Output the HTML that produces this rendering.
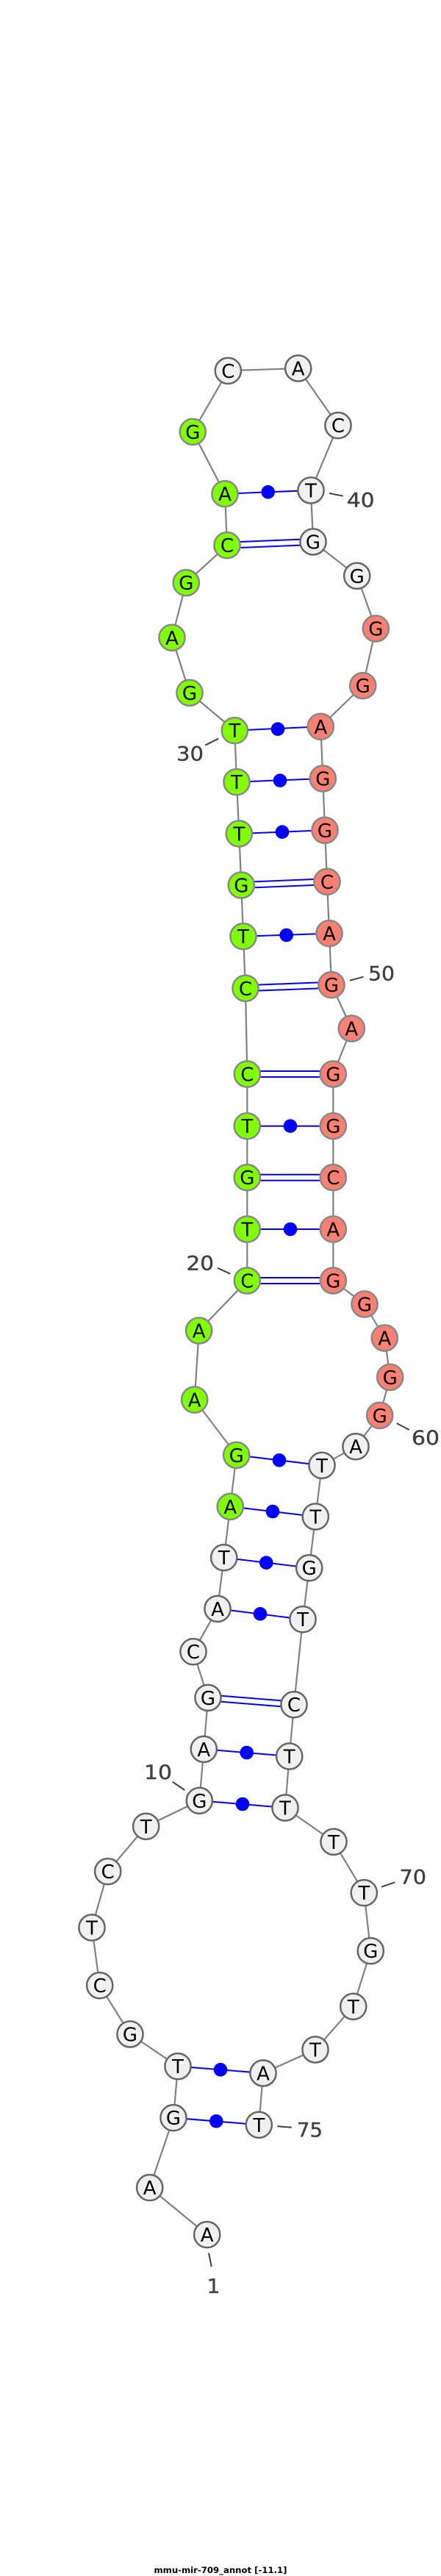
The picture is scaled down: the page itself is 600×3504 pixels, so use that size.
<!DOCTYPE html>
<html><head><meta charset="utf-8"><style>
html,body{margin:0;padding:0;background:#fff}
svg{display:block}
.n circle{r:17.6px}
.n text{font-family:"DejaVu Sans",sans-serif;font-size:26px;text-anchor:middle;fill:#000;transform:translateY(.5px)}
.g circle{fill:#7fff00;stroke:#888;stroke-width:2.5}
.s circle{fill:#fa8072;stroke:#888;stroke-width:2.5}
.w circle{fill:#f0f0f0;stroke:#666;stroke-width:2.5}
.lab{font-family:"DejaVu Sans",sans-serif;font-size:27px;fill:#404040;stroke:#404040;stroke-width:.4}
.tick line{stroke:#404040;stroke-width:2}
.bp line{stroke:#0000ff;stroke-width:2}
.bp circle{fill:#0000ff}
</style></head><body>
<svg width="600" height="3504" viewBox="0 0 600 3504" xmlns="http://www.w3.org/2000/svg">
<polyline fill="none" stroke="#808080" stroke-width="2.2" points="281.7,3039.7 203.7,2975.7 236,2880.7 242,2810.7 177,2767 135.7,2700.7 125,2622 146.7,2545.7 198.7,2484.3 271.3,2449.3 277.3,2379.3 283,2309.3 263,2246.7 296,2188.3 304.7,2118.7 313.3,2049.3 321.7,1979.3 264.7,1904 270.7,1810 336.3,1742 336.3,1672 336.3,1601.7 336.3,1531.7 336.3,1461 334,1344.3 331,1273.7 328.3,1204 325.3,1134 322,1063.7 319.3,993.7 258,942.3 234,867.3 253.3,792.7 309,741.7 306,671.7 262.3,587.3 310.3,504.3 405.7,501 460,578.7 423,667 426,737 485.7,783.3 511.3,855 493.7,932.7 436.3,988.3 439.3,1059 442,1129.3 445,1199.3 448,1269.7 451,1339.7 478.3,1399 453.3,1461 453.3,1531.7 453.3,1601.7 453.3,1672 453.3,1742 496,1774 523.3,1820 530.7,1873.3 516.7,1925.3 484,1967.7 438,1993.3 429.3,2063 420.7,2132.7 412,2202.7 400,2318.7 393.7,2389 388,2459 454,2505.3 495.3,2574.7 504.3,2653.7 480.7,2729.3 429,2788 358,2820 352.3,2890.3"/>
<polyline fill="none" stroke="#808080" stroke-width="2.2" points="242,2810.7 358,2820" style="display:none"/>
<g class="bp">
<line x1="306" y1="671.7" x2="423" y2="667"/><circle cx="364.7" cy="669.3" r="9.3"/>
<line x1="309" y1="737.7" x2="426" y2="733"/><line x1="309" y1="745.7" x2="426" y2="741"/>
<line x1="319.3" y1="993.7" x2="436.3" y2="988.3"/><circle cx="378" cy="991.7" r="9.3"/>
<line x1="322" y1="1063.7" x2="439.3" y2="1059"/><circle cx="381" cy="1061.7" r="9.3"/>
<line x1="325.3" y1="1134" x2="442" y2="1129.3"/><circle cx="384" cy="1131.7" r="9.3"/>
<line x1="328.3" y1="1200" x2="445" y2="1195.3"/><line x1="328.3" y1="1208" x2="445" y2="1203.3"/>
<line x1="331" y1="1273.7" x2="448" y2="1269.7"/><circle cx="389.7" cy="1272" r="9.3"/>
<line x1="334" y1="1340.3" x2="451" y2="1335.7"/><line x1="334" y1="1348.3" x2="451" y2="1343.7"/>
<line x1="336.3" y1="1457" x2="453.3" y2="1457"/><line x1="336.3" y1="1465" x2="453.3" y2="1465"/>
<line x1="336.3" y1="1531.7" x2="453.3" y2="1531.7"/><circle cx="395" cy="1531.7" r="9.3"/>
<line x1="336.3" y1="1597.7" x2="453.3" y2="1597.7"/><line x1="336.3" y1="1605.7" x2="453.3" y2="1605.7"/>
<line x1="336.3" y1="1672" x2="453.3" y2="1672"/><circle cx="395" cy="1672" r="9.3"/>
<line x1="336.3" y1="1738" x2="453.3" y2="1738"/><line x1="336.3" y1="1746" x2="453.3" y2="1746"/>
<line x1="321.7" y1="1979.3" x2="438" y2="1993.3"/><circle cx="380" cy="1986.3" r="9.3"/>
<line x1="313.3" y1="2049.3" x2="429.3" y2="2063"/><circle cx="371" cy="2056" r="9.3"/>
<line x1="304.7" y1="2118.7" x2="420.7" y2="2132.7"/><circle cx="362.3" cy="2125.7" r="9.3"/>
<line x1="296" y1="2188.3" x2="412" y2="2202.7"/><circle cx="354" cy="2195.3" r="9.3"/>
<line x1="283" y1="2305.3" x2="400" y2="2314.7"/><line x1="283" y1="2313.3" x2="400" y2="2322.7"/>
<line x1="277.3" y1="2379.3" x2="393.7" y2="2389"/><circle cx="335.7" cy="2384" r="9.3"/>
<line x1="271.3" y1="2449.3" x2="388" y2="2459"/><circle cx="330" cy="2454" r="9.3"/>
<line x1="242" y1="2810.7" x2="358" y2="2820"/><circle cx="300" cy="2815.3" r="9.3"/>
<line x1="236" y1="2880.7" x2="352.3" y2="2890.3"/><circle cx="294.3" cy="2885.3" r="9.3"/>
</g>
<g class="n w">
<circle cx="281.7" cy="3039.7" r="17"/><text x="281.7" y="3048.7">A</text>
<circle cx="203.7" cy="2975.7" r="17"/><text x="203.7" y="2984.7">A</text>
<circle cx="236" cy="2880.7" r="17"/><text x="236" y="2889.7">G</text>
<circle cx="242" cy="2810.7" r="17"/><text x="242" y="2819.7">T</text>
<circle cx="177" cy="2767" r="17"/><text x="177" y="2776">G</text>
<circle cx="135.7" cy="2700.7" r="17"/><text x="135.7" y="2709.7">C</text>
<circle cx="125" cy="2622" r="17"/><text x="125" y="2631">T</text>
<circle cx="146.7" cy="2545.7" r="17"/><text x="146.7" y="2554.7">C</text>
<circle cx="198.7" cy="2484.3" r="17"/><text x="198.7" y="2493.3">T</text>
<circle cx="271.3" cy="2449.3" r="17"/><text x="271.3" y="2458.3">G</text>
<circle cx="277.3" cy="2379.3" r="17"/><text x="277.3" y="2388.3">A</text>
<circle cx="283" cy="2309.3" r="17"/><text x="283" y="2318.3">G</text>
<circle cx="263" cy="2246.7" r="17"/><text x="263" y="2255.7">C</text>
<circle cx="296" cy="2188.3" r="17"/><text x="296" y="2197.3">A</text>
<circle cx="304.7" cy="2118.7" r="17"/><text x="304.7" y="2127.7">T</text>
<circle cx="310.3" cy="504.3" r="17"/><text x="310.3" y="513.3">C</text>
<circle cx="405.7" cy="501" r="17"/><text x="405.7" y="510">A</text>
<circle cx="460" cy="578.7" r="17"/><text x="460" y="587.7">C</text>
<circle cx="423" cy="667" r="17"/><text x="423" y="676">T</text>
<circle cx="426" cy="737" r="17"/><text x="426" y="746">G</text>
<circle cx="485.7" cy="783.3" r="17"/><text x="485.7" y="792.3">G</text>
<circle cx="484" cy="1967.7" r="17"/><text x="484" y="1976.7">A</text>
<circle cx="438" cy="1993.3" r="17"/><text x="438" y="2002.3">T</text>
<circle cx="429.3" cy="2063" r="17"/><text x="429.3" y="2072">T</text>
<circle cx="420.7" cy="2132.7" r="17"/><text x="420.7" y="2141.7">G</text>
<circle cx="412" cy="2202.7" r="17"/><text x="412" y="2211.7">T</text>
<circle cx="400" cy="2318.7" r="17"/><text x="400" y="2327.7">C</text>
<circle cx="393.7" cy="2389" r="17"/><text x="393.7" y="2398">T</text>
<circle cx="388" cy="2459" r="17"/><text x="388" y="2468">T</text>
<circle cx="454" cy="2505.3" r="17"/><text x="454" y="2514.3">T</text>
<circle cx="495.3" cy="2574.7" r="17"/><text x="495.3" y="2583.7">T</text>
<circle cx="504.3" cy="2653.7" r="17"/><text x="504.3" y="2662.7">G</text>
<circle cx="480.7" cy="2729.3" r="17"/><text x="480.7" y="2738.3">T</text>
<circle cx="429" cy="2788" r="17"/><text x="429" y="2797">T</text>
<circle cx="358" cy="2820" r="17"/><text x="358" y="2829">A</text>
<circle cx="352.3" cy="2890.3" r="17"/><text x="352.3" y="2899.3">T</text>
</g>
<g class="n g">
<circle cx="313.3" cy="2049.3" r="17"/><text x="313.3" y="2058.3">A</text>
<circle cx="321.7" cy="1979.3" r="17"/><text x="321.7" y="1988.3">G</text>
<circle cx="264.7" cy="1904" r="17"/><text x="264.7" y="1913">A</text>
<circle cx="270.7" cy="1810" r="17"/><text x="270.7" y="1819">A</text>
<circle cx="336.3" cy="1742" r="17"/><text x="336.3" y="1751">C</text>
<circle cx="336.3" cy="1672" r="17"/><text x="336.3" y="1681">T</text>
<circle cx="336.3" cy="1601.7" r="17"/><text x="336.3" y="1610.7">G</text>
<circle cx="336.3" cy="1531.7" r="17"/><text x="336.3" y="1540.7">T</text>
<circle cx="336.3" cy="1461" r="17"/><text x="336.3" y="1470">C</text>
<circle cx="334" cy="1344.3" r="17"/><text x="334" y="1353.3">C</text>
<circle cx="331" cy="1273.7" r="17"/><text x="331" y="1282.7">T</text>
<circle cx="328.3" cy="1204" r="17"/><text x="328.3" y="1213">G</text>
<circle cx="325.3" cy="1134" r="17"/><text x="325.3" y="1143">T</text>
<circle cx="322" cy="1063.7" r="17"/><text x="322" y="1072.7">T</text>
<circle cx="319.3" cy="993.7" r="17"/><text x="319.3" y="1002.7">T</text>
<circle cx="258" cy="942.3" r="17"/><text x="258" y="951.3">G</text>
<circle cx="234" cy="867.3" r="17"/><text x="234" y="876.3">A</text>
<circle cx="253.3" cy="792.7" r="17"/><text x="253.3" y="801.7">G</text>
<circle cx="309" cy="741.7" r="17"/><text x="309" y="750.7">C</text>
<circle cx="306" cy="671.7" r="17"/><text x="306" y="680.7">A</text>
<circle cx="262.3" cy="587.3" r="17"/><text x="262.3" y="596.3">G</text>
</g>
<g class="n s">
<circle cx="511.3" cy="855" r="17"/><text x="511.3" y="864">G</text>
<circle cx="493.7" cy="932.7" r="17"/><text x="493.7" y="941.7">G</text>
<circle cx="436.3" cy="988.3" r="17"/><text x="436.3" y="997.3">A</text>
<circle cx="439.3" cy="1059" r="17"/><text x="439.3" y="1068">G</text>
<circle cx="442" cy="1129.3" r="17"/><text x="442" y="1138.3">G</text>
<circle cx="445" cy="1199.3" r="17"/><text x="445" y="1208.3">C</text>
<circle cx="448" cy="1269.7" r="17"/><text x="448" y="1278.7">A</text>
<circle cx="451" cy="1339.7" r="17"/><text x="451" y="1348.7">G</text>
<circle cx="478.3" cy="1399" r="17"/><text x="478.3" y="1408">A</text>
<circle cx="453.3" cy="1461" r="17"/><text x="453.3" y="1470">G</text>
<circle cx="453.3" cy="1531.7" r="17"/><text x="453.3" y="1540.7">G</text>
<circle cx="453.3" cy="1601.7" r="17"/><text x="453.3" y="1610.7">C</text>
<circle cx="453.3" cy="1672" r="17"/><text x="453.3" y="1681">A</text>
<circle cx="453.3" cy="1742" r="17"/><text x="453.3" y="1751">G</text>
<circle cx="496" cy="1774" r="17"/><text x="496" y="1783">G</text>
<circle cx="523.3" cy="1820" r="17"/><text x="523.3" y="1829">A</text>
<circle cx="530.7" cy="1873.3" r="17"/><text x="530.7" y="1882.3">G</text>
<circle cx="516.7" cy="1925.3" r="17"/><text x="516.7" y="1934.3">G</text>
</g>
<g class="tick">
<line x1="448" y1="671" x2="466.7" y2="674.7"/>
<line x1="279.3" y1="1013.7" x2="297.3" y2="1004.7"/>
<line x1="476" y1="1333.7" x2="494.7" y2="1328.7"/>
<line x1="295.7" y1="1724.7" x2="313.3" y2="1732.7"/>
<line x1="539.7" y1="1936" x2="556.7" y2="1945"/>
<line x1="234.7" y1="2423.7" x2="251.3" y2="2435"/>
<line x1="519" y1="2566.7" x2="537.3" y2="2560.3"/>
<line x1="377.3" y1="2892.3" x2="396.7" y2="2893.7"/>
<line x1="284" y1="3064.7" x2="287.7" y2="3083.3"/>
</g>
<text class="lab" x="472" y="689.3" textLength="37.5" lengthAdjust="spacingAndGlyphs">40</text>
<text class="lab" x="240" y="1034.3" textLength="37" lengthAdjust="spacingAndGlyphs">30</text>
<text class="lab" x="501" y="1333.3" textLength="36" lengthAdjust="spacingAndGlyphs">50</text>
<text class="lab" x="253.5" y="1727.3" textLength="37.5" lengthAdjust="spacingAndGlyphs">20</text>
<text class="lab" x="560" y="1965" textLength="38" lengthAdjust="spacingAndGlyphs">60</text>
<text class="lab" x="196" y="2420" textLength="38" lengthAdjust="spacingAndGlyphs">10</text>
<text class="lab" x="543.5" y="2562.3" textLength="36.5" lengthAdjust="spacingAndGlyphs">70</text>
<text class="lab" x="404" y="2906.7" textLength="35" lengthAdjust="spacingAndGlyphs">75</text>
<text class="lab" x="281.5" y="3119" textLength="18" lengthAdjust="spacingAndGlyphs">1</text>
<text x="209.5" y="3500" font-family="'DejaVu Sans',sans-serif" font-size="11.5" font-weight="bold" fill="#000" textLength="181" lengthAdjust="spacingAndGlyphs">mmu-mir-709_annot [-11.1]</text>
</svg>
</body></html>
